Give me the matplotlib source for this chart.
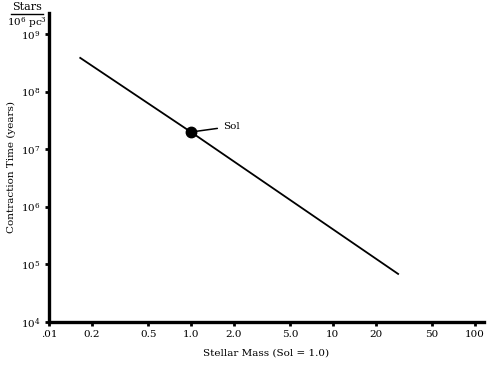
import matplotlib.pyplot as plt
from matplotlib.lines import Line2D

plt.rcParams['font.family'] = ['DejaVu Serif']
plt.rcParams['mathtext.fontset'] = 'dejavuserif'

# data (log-log)
mass = [0.166, 1.0, 28.8]
contraction_years = [3.9e8, 2.0e7, 6.8e4]
sol_mass = 1.0
sol_years = 2.0e7

x_ticks = [0.1, 0.2, 0.5, 1.0, 2.0, 5.0, 10, 20, 50, 100]
x_labels = [".01", "0.2", "0.5", "1.0", "2.0", "5.0", "10", "20", "50", "100"]
y_ticks = [1e4, 1e5, 1e6, 1e7, 1e8, 1e9]
y_labels = [r"10$^{4}$", r"10$^{5}$", r"10$^{6}$", r"10$^{7}$", r"10$^{8}$", r"10$^{9}$"]

fig = plt.figure(figsize=(5, 3.69), dpi=100)
ax = fig.add_axes([0.098, 0.128, 0.87, 0.838])

ax.plot(mass, contraction_years, color="black", linewidth=1.3)
ax.plot([sol_mass], [sol_years], "o", color="black", markersize=7.5)
ax.annotate("Sol", xy=(sol_mass, sol_years), xytext=(23, 4), textcoords="offset points",
            fontsize=7.5, va="center", ha="left",
            arrowprops=dict(arrowstyle="-", color="black", lw=1.1, shrinkA=2, shrinkB=0))

ax.set_xscale("log")
ax.set_yscale("log")
ax.set_xlim(0.1, 116)
ax.set_ylim(1e4, 10 ** 9.38)
ax.set_xticks(x_ticks)
ax.set_xticklabels(x_labels)
ax.set_yticks(y_ticks)
ax.set_yticklabels(y_labels)
ax.minorticks_off()

for s in ["top", "right"]:
    ax.spines[s].set_visible(False)
for s in ["left", "bottom"]:
    ax.spines[s].set_linewidth(2.4)
ax.tick_params(axis="both", direction="out", length=3, width=2, labelsize=7.5, pad=3)

ax.set_xlabel("Stellar Mass (Sol = 1.0)", fontsize=7.5, labelpad=7)
ax.set_ylabel("Contraction Time (years)", fontsize=7.5, labelpad=4)

fig.text(0.054, 0.981, "Stars", fontsize=8, ha="center", va="center")
fig.add_artist(Line2D([0.022, 0.086], [0.962, 0.962], color="black", lw=1, transform=fig.transFigure))
fig.text(0.054, 0.938, r"10$^{6}$ pc$^{3}$", fontsize=7.5, ha="center", va="center")

fig.savefig("out.png", dpi=100)
